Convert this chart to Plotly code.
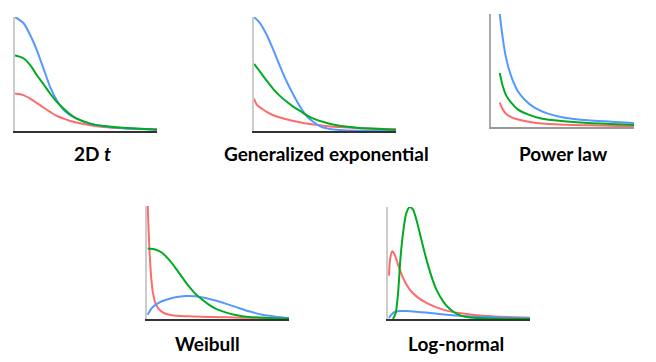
import plotly.graph_objects as go

W, H = 656, 362

titles = ["<b>2D <i>t</i></b>", "<b>Generalized exponential</b>", "<b>Power law</b>",
          "<b>Weibull</b>", "<b>Log-normal</b>"]

# ---- Panel 1: 2D t ----
t_x = [0, 0.59, 1.06, 1.53, 2.0, 2.47, 2.94, 3.41, 3.88, 4.35, 5.29, 6.24, 7.65, 10]
t_blue = [1.0, 0.947, 0.844, 0.712, 0.55, 0.388, 0.27, 0.188, 0.138, 0.109, 0.065, 0.041, 0.024, 0.012]
t_green = [0.662, 0.638, 0.579, 0.491, 0.412, 0.329, 0.256, 0.197, 0.147, 0.109, 0.065, 0.044, 0.029, 0.012]
t_red = [0.329, 0.315, 0.285, 0.247, 0.206, 0.168, 0.132, 0.109, 0.088, 0.074, 0.05, 0.035, 0.024, 0.015]

# ---- Panel 2: Generalized exponential ----
ge_x_blue = [0, 0.42, 0.89, 1.36, 1.84, 2.31, 2.78, 3.25, 3.72, 4.19, 4.66, 5.36, 6.31, 10]
ge_blue = [1.0, 0.947, 0.844, 0.712, 0.565, 0.432, 0.315, 0.212, 0.129, 0.079, 0.041, 0.018, 0.006, 0.0]
ge_x_green = [0, 0.42, 0.89, 1.36, 1.84, 2.31, 2.78, 3.25, 3.72, 4.19, 4.89, 5.84, 7.25, 10]
ge_green = [0.588, 0.52, 0.441, 0.368, 0.306, 0.256, 0.212, 0.176, 0.138, 0.109, 0.079, 0.05, 0.029, 0.012]
ge_x_red = [0, 0.19, 0.54, 0.89, 1.36, 2.07, 2.78, 3.72, 4.89, 6.31, 7.95, 10]
ge_red = [0.285, 0.232, 0.197, 0.168, 0.138, 0.109, 0.088, 0.065, 0.047, 0.032, 0.021, 0.015]

# ---- Panel 3: Power law ----
pl_x_blue = [0.61, 0.82, 1.05, 1.41, 1.87, 2.34, 3.04, 3.98, 5.15, 6.79, 8.43, 10]
pl_blue = [1.0, 0.788, 0.612, 0.45, 0.318, 0.244, 0.171, 0.118, 0.082, 0.059, 0.047, 0.035]
pl_x_green = [0.61, 0.82, 1.05, 1.41, 1.87, 2.58, 3.51, 4.92, 6.79, 10]
pl_green = [0.479, 0.362, 0.282, 0.215, 0.156, 0.112, 0.076, 0.053, 0.035, 0.018]
pl_x_red = [0.61, 0.82, 1.05, 1.41, 2.11, 3.04, 4.45, 6.79, 10]
pl_red = [0.215, 0.156, 0.118, 0.088, 0.059, 0.038, 0.024, 0.015, 0.006]

# ---- Panel 4: Weibull ----
wb_x_red = [0.05, 0.12, 0.21, 0.31, 0.42, 0.59, 0.82, 1.18, 1.76, 2.94, 4.35, 6.71, 10]
wb_red = [1.0, 0.763, 0.527, 0.349, 0.231, 0.142, 0.089, 0.053, 0.033, 0.024, 0.018, 0.012, 0.006]
wb_x_green = [0.05, 0.59, 1.06, 1.53, 2.0, 2.47, 2.94, 3.41, 3.88, 4.35, 4.82, 5.53, 6.24, 7.18, 8.59, 10]
wb_green = [0.624, 0.615, 0.586, 0.527, 0.453, 0.37, 0.29, 0.222, 0.172, 0.127, 0.092, 0.059, 0.036, 0.018, 0.009, 0.003]
wb_x_blue = [0.05, 0.35, 0.82, 1.41, 2.0, 2.71, 3.41, 4.12, 4.82, 5.53, 6.24, 7.18, 8.12, 9.06, 10]
wb_blue = [0.038, 0.098, 0.142, 0.172, 0.192, 0.204, 0.201, 0.186, 0.163, 0.136, 0.107, 0.068, 0.038, 0.021, 0.009]

# ---- Panel 5: Log-normal ----
ln_x_green = [0.35, 0.54, 0.71, 0.87, 1.06, 1.29, 1.53, 1.76, 2.0, 2.35, 2.71, 3.06, 3.41, 3.88, 4.35, 4.82, 5.53, 6.71, 10]
ln_green = [0.0, 0.054, 0.232, 0.53, 0.768, 0.946, 1.0, 0.976, 0.887, 0.708, 0.53, 0.381, 0.262, 0.158, 0.089, 0.048, 0.018, 0.006, 0.0]
ln_x_red = [0.07, 0.16, 0.31, 0.47, 0.71, 1.06, 1.53, 2.0, 2.71, 3.41, 4.35, 5.53, 6.71, 8.35, 10]
ln_red = [0.387, 0.545, 0.604, 0.574, 0.485, 0.366, 0.262, 0.202, 0.143, 0.104, 0.068, 0.045, 0.03, 0.018, 0.012]
ln_x_blue = [0.07, 0.24, 0.47, 0.82, 1.29, 2.0, 3.18, 4.35, 5.53, 6.71, 8.35, 10]
ln_blue = [0.009, 0.039, 0.0625, 0.071, 0.071, 0.065, 0.051, 0.036, 0.024, 0.018, 0.012, 0.006]

BLUE, GREEN, RED = "#5599ff", "#00aa22", "#ff6b6b"

panels = [
    [(t_x, t_red, RED), (t_x, t_blue, BLUE), (t_x, t_green, GREEN)],
    [(ge_x_red, ge_red, RED), (ge_x_blue, ge_blue, BLUE), (ge_x_green, ge_green, GREEN)],
    [(pl_x_red, pl_red, RED), (pl_x_blue, pl_blue, BLUE), (pl_x_green, pl_green, GREEN)],
    [(wb_x_red, wb_red, RED), (wb_x_blue, wb_blue, BLUE), (wb_x_green, wb_green, GREEN)],
    [(ln_x_red, ln_red, RED), (ln_x_blue, ln_blue, BLUE), (ln_x_green, ln_green, GREEN)],
]

# pixel boxes (left, right, top, bottom) and title centres
boxes = [(15, 157, 17, 131), (254, 396, 17, 131), (491, 634, 14, 127),
         (147, 289, 206, 319), (388, 530, 207, 319)]
title_pos = [(92, 153), (326, 153), (563, 153), (207, 343), (456, 343)]
axis_colors = [("#333333", "#cccccc"), ("#333333", "#cccccc"), ("#999999", "#aaaaaa"),
               ("#333333", "#cccccc"), ("#333333", "#cccccc")]

fig = go.Figure()
layout = dict(width=W, height=H, margin=dict(l=0, r=0, t=0, b=0),
              paper_bgcolor="white", plot_bgcolor="white", showlegend=False,
              annotations=[])

for i, (series, box) in enumerate(zip(panels, boxes)):
    n = "" if i == 0 else str(i + 1)
    xa, ya = "x" + n, "y" + n
    for xs, ys, c in series:
        fig.add_trace(go.Scatter(x=xs, y=ys, mode="lines", xaxis=xa, yaxis=ya,
                                 line=dict(color=c, width=2, shape="spline", smoothing=0.8),
                                 hoverinfo="skip", cliponaxis=True))
    l, r, t, b = box
    xc, yc = axis_colors[i]
    layout["xaxis" + n] = dict(domain=[l / W, r / W], range=[0, 10], showgrid=False,
                               zeroline=False, showticklabels=False, ticks="",
                               showline=True, linecolor=xc, linewidth=2,
                               anchor=ya, fixedrange=True)
    layout["yaxis" + n] = dict(domain=[1 - b / H, 1 - t / H], range=[0, 1.0], showgrid=False,
                               zeroline=False, showticklabels=False, ticks="",
                               showline=True, linecolor=yc, linewidth=2,
                               anchor=xa, fixedrange=True)
    tx, ty = title_pos[i]
    layout["annotations"].append(dict(text=titles[i], x=tx / W, y=1 - ty / H,
                                      xref="paper", yref="paper", showarrow=False,
                                      xanchor="center", yanchor="middle",
                                      font=dict(family="Lato", size=19, color="#000000")))

fig.update_layout(**layout)
fig.write_html("out.html", config={"displayModeBar": False},
               post_script="document.body.style.margin='0';document.body.style.overflow='hidden';")
